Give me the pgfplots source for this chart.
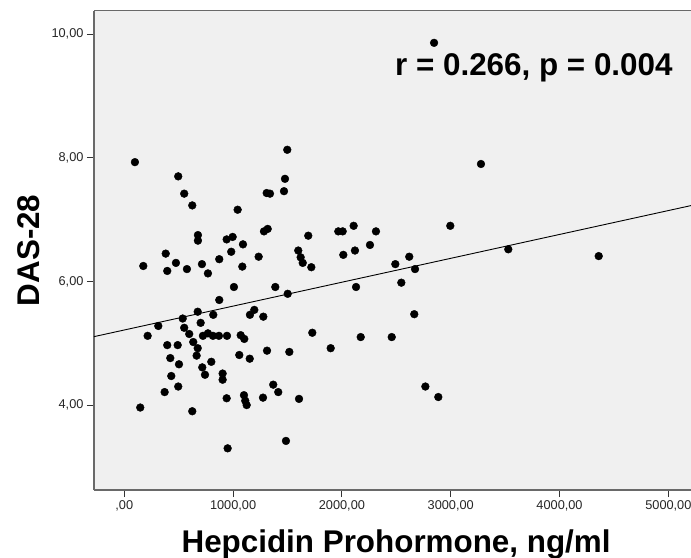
\documentclass[border=0pt]{standalone}
\usepackage{fontspec}
\setmainfont{Liberation Sans}
\usepackage{pgfplots}
\pgfplotsset{compat=1.18}
\definecolor{bgc}{RGB}{240,240,240}
\definecolor{framec}{RGB}{105,105,105}
\begin{document}
\begin{tikzpicture}
\useasboundingbox (0,0) rectangle (691bp,558bp);
\begin{axis}[
  at={(94bp,68bp)}, anchor=south west,
  scale only axis, width=597bp, height=479.3bp,
  xmin=-278, xmax=5208, ymin=2.626, ymax=10.38,
  axis background/.style={fill=bgc},
  axis x line=box, axis y line=left,
  axis line style={-, draw=framec, line width=1.3bp},
  xtick pos=left, ytick pos=left,
  tick align=outside, major tick length=7bp,
  tick style={draw=black!80, line width=1bp},
  xtick={0,1000,2000,3000,4000,5000},
  xticklabels={{,00},{1000,00},{2000,00},{3000,00},{4000,00},{5000,00}},
  ytick={4,6,8,10},
  yticklabels={{4,00},{6,00},{8,00},{10,00}},
  ticklabel style={font=\fontsize{12.8}{14}\selectfont, text=black!85},
  xlabel={Hepcidin Prohormone, ng/ml},
  ylabel={DAS-28},
  xlabel style={at={(axis description cs:0.506,-0.1294)}, anchor=base, font=\bfseries\fontsize{31.5}{36}\selectfont},
  ylabel style={at={(axis description cs:-0.1097,0.5)}, anchor=center, font=\bfseries\fontsize{31.5}{36}\selectfont},
  clip=false,
]
\addplot[black, line width=0.9bp] coordinates {(-278,5.107) (5208,7.227)};
\addplot[only marks, mark=*, mark size=3.9bp, mark options={fill=black, draw=none}] coordinates {
(98,7.93) (496,7.70) (551,7.42) (625,7.23) (1042,7.16) (1498,8.13) (1477,7.66)
(1309,7.43) (1339,7.42) (1468,7.46) (677,6.75) (677,6.66) (941,6.68) (996,6.72)
(1091,6.60) (983,6.48) (1284,6.81) (1318,6.85) (381,6.45) (175,6.25) (395,6.17)
(475,6.30) (576,6.20) (714,6.28) (769,6.13) (873,6.36) (1085,6.24) (1235,6.40)
(1008,5.91) (1388,5.91) (1502,5.80) (873,5.70) (675,5.51) (818,5.46) (1155,5.46)
(1195,5.54) (1278,5.43) (537,5.40) (313,5.28) (702,5.33) (551,5.25) (215,5.12)
(597,5.15) (723,5.12) (769,5.16) (815,5.12) (870,5.12) (944,5.12) (1070,5.13)
(1103,5.07) (634,5.02) (675,4.92) (395,4.97) (491,4.97) (665,4.80) (423,4.76)
(503,4.66) (1057,4.81) (1153,4.75) (1312,4.88) (1517,4.86) (800,4.70) (717,4.61)
(742,4.49) (904,4.51) (904,4.41) (432,4.47) (496,4.30) (371,4.21) (1369,4.33)
(1415,4.21) (941,4.11) (1100,4.16) (1112,4.07) (1125,4.00) (1275,4.12) (147,3.96)
(625,3.90) (1486,3.42) (950,3.30) (1606,4.10) (2767,4.30) (2886,4.13) (1691,6.74)
(1967,6.81) (2007,6.81) (2108,6.90) (2313,6.81) (2996,6.90) (1599,6.50) (1621,6.39)
(1640,6.30) (1719,6.23) (2013,6.43) (2120,6.50) (2258,6.59) (2491,6.28) (2619,6.40)
(2672,6.20) (2130,5.91) (2546,5.98) (3529,6.52) (4360,6.41) (2665,5.47) (1728,5.17)
(1897,4.92) (2173,5.10) (2458,5.10) (2847,9.86) (3278,7.90)
};
\node[anchor=base east, font=\bfseries\fontsize{31.5}{36}\selectfont] at (axis cs:5071,9.325) {r = 0.266, p = 0.004};
\end{axis}
\end{tikzpicture}
\end{document}
